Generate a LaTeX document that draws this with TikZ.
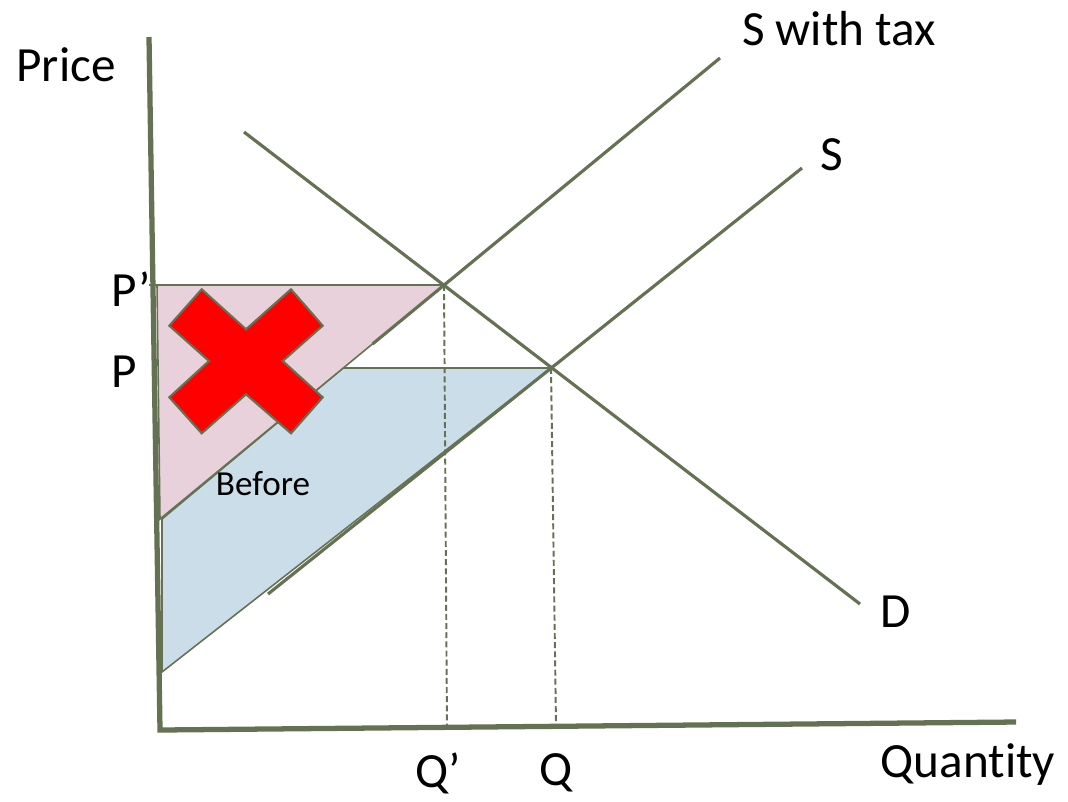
\documentclass[tikz,border=0pt]{standalone}
\usepackage{fontspec}
\setmainfont{Carlito}[Ligatures=NoCommon]
\usetikzlibrary{positioning}
\definecolor{LineMain}{HTML}{657153}
\definecolor{LossPink}{HTML}{E9D1DC}
\definecolor{GainBlue}{HTML}{CADDE9}
\definecolor{CrossRed}{HTML}{FF0000}
\tikzset{every node/.style={font=\fontsize{14}{16}\selectfont,inner sep=0pt},
 axis/.style={draw=LineMain,line width=1.5pt},curve/.style={draw=LineMain,line width=0.9pt},
 edgeline/.style={draw=LineMain,line width=0.45pt},
 guide/.style={draw=LineMain,line width=0.55pt,dash pattern=on 1.7pt off 0.9pt},
 small/.style={font=\fontsize{10}{12}\selectfont}}
\begin{document}
\begin{tikzpicture}[x=0.1mm,y=-0.1mm]
\useasboundingbox (0,0) rectangle (1068,801);
% points
\coordinate (origin) at (160,730);
\coordinate (yTop) at (149,37);
\coordinate (xEnd) at (1016,722);
\coordinate (eqTax) at (444,285);
\coordinate (eq) at (551,368);
\coordinate (qTax) at (447,727);
\coordinate (qOld) at (556,725);
% surplus areas
\filldraw[edgeline,fill=GainBlue] (343,368) -- (eq) -- (162,672) -- (162,519) -- cycle;
\filldraw[edgeline,fill=LossPink] (157,285) -- (eqTax) -- (160,519) -- cycle;
\draw[edgeline] (149,285) -- (eqTax);
% guides
\draw[guide] (eqTax) -- (qTax);
\draw[guide] (eq) -- (qOld);
% curves
\draw[curve] (244,132) -- (860,604);
\draw[curve] (268,594) -- (802,168);
\draw[curve] (372.5,344) -- (720,58);
% axes
\draw[axis] (yTop) -- (origin) -- (xEnd);
% cross
\filldraw[draw=LineMain,line width=0.6pt,fill=CrossRed]
 (201.7,289.3) -- (246,329.3) -- (291,289.3) -- (322.7,325.7) -- (282.7,361)
 -- (322.7,397.3) -- (291,433.3) -- (246,394.3) -- (201.7,433.3) -- (169.3,397.3)
 -- (209,361) -- (169.3,325.7) -- cycle;
% labels
\node (price) at (66,65) {Price};
\node (sTax) at (839,29) {S with tax};
\node (sLabel) at (832,155) {S};
\node (pTax) at (131,289) {P’};
\node (pOld) at (124,372) {P};
\node[small] (before) at (263,484) {Before};
\node (dLabel) at (896,612) {D};
\node (qTaxLabel) at (438,773) {Q’};
\node (qLabel) at (556,773) {Q};
\node (quantity) at (968,765) {Quantity};
\end{tikzpicture}
\end{document}
